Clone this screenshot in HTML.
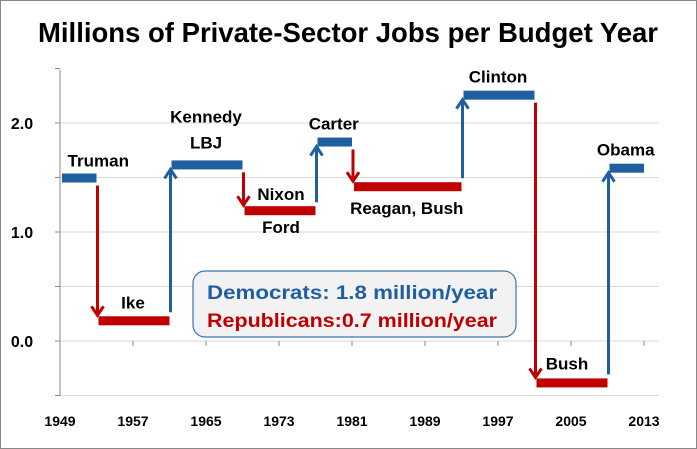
<!DOCTYPE html>
<html><head><meta charset="utf-8"><style>
body{margin:0;background:#fff}
svg{display:block;font-family:"Liberation Sans",sans-serif}
</style></head><body>
<svg id="chart" width="697" height="449">
<rect x="0.5" y="0.5" width="696" height="448" fill="#fff" stroke="#888"/>
<text x="348" y="42" text-anchor="middle" font-size="28" font-weight="bold" textLength="620" lengthAdjust="spacingAndGlyphs">Millions of Private-Sector Jobs per Budget Year</text>
<g id="grid"></g><g id="axes"></g><g id="marks"></g><g id="labels"></g>
<g>
<rect x="193" y="271" width="323" height="66" rx="12" fill="#f2f2f2" stroke="#3a75b0" stroke-width="1.2"/>
<text x="207" y="299" font-size="19" font-weight="bold" fill="#1f5fa0" textLength="290" lengthAdjust="spacingAndGlyphs">Democrats:  1.8 million/year</text>
<text x="207" y="327" font-size="19" font-weight="bold" fill="#c00000" textLength="290" lengthAdjust="spacingAndGlyphs">Republicans:0.7 million/year</text>
</g>
</svg>
<script>
const presidents = ["Truman","Ike","Kennedy\nLBJ","Nixon","Carter","Reagan, Bush","Clinton","Bush","Obama"];
const startYears = [1949,1953,1961,1969,1977,1981,1993,2001,2009];
const endYears = [1953,1961,1969,1977,1981,1993,2001,2009,2013];
const jobs = [1.5,0.19,1.62,1.2,1.83,1.42,2.26,-0.38,1.59];
const parties = ["D","R","D","R","D","R","D","R","D"];
const yTicks = [-0.5,0,0.5,1.0,1.5,2.0,2.5];
const yTickLabels = ["","0.0","","1.0","","2.0",""];
const xTickYears = [1949,1957,1965,1973,1981,1989,1997,2005,2013];

const NS="http://www.w3.org/2000/svg";
const X=yr=>60+(yr-1949)*9.125;
const Y=v=>341-v*109;
const BLUE="#1f5fa0", RED="#c00000";
function mk(tag,attrs,parent){const e=document.createElementNS(NS,tag);for(const k in attrs)e.setAttribute(k,attrs[k]);document.getElementById(parent).appendChild(e);return e;}

yTicks.forEach((t,i)=>{
  if(t!==2.5){const g=mk("line",{x1:60,x2:659,y1:Y(t),y2:Y(t),stroke:"#d9d9d9"},"grid");
  
  }
  const tk=mk("line",{x1:55,x2:60,y1:Y(t),y2:Y(t),stroke:"#888"},"axes");
  
  
  if(yTickLabels[i]){const l=mk("text",{x:22,y:Y(t)+6,"text-anchor":"middle","font-size":16,"font-weight":"bold"},"axes");l.textContent=yTickLabels[i];
  
  }
});
const ax=mk("line",{x1:60,x2:60,y1:Y(2.5)+1,y2:Y(-0.5),stroke:"#888"},"axes");


xTickYears.forEach(yr=>{
  const tk=mk("line",{x1:X(yr),x2:X(yr),y1:Y(0),y2:Y(0)+5,stroke:"#888"},"axes");
  
  
  const l=mk("text",{x:X(yr),y:426,"text-anchor":"middle","font-size":14,"font-weight":"bold"},"axes");l.textContent=yr;
  
  
});
presidents.forEach((p,i)=>{
  const col=parties[i]==="D"?BLUE:RED;
  const b=mk("rect",{x:X(startYears[i])+2,y:Y(jobs[i])-4,width:X(endYears[i])-X(startYears[i])-2,height:9,fill:col},"marks");
  
  
  if(i>0){
    const xa=X(startYears[i])+1, y0=Y(jobs[i-1]), y1=Y(jobs[i]);
    const c=parties[i]==="D"?BLUE:RED, dir=y1>y0?1:-1;
    const s0=y0+dir*8, s1=y1-dir*5;
    const a=mk("path",{d:`M${xa},${s0}L${xa},${s1}M${xa-6},${s1-dir*9}L${xa},${s1}L${xa+6},${s1-dir*9}`,stroke:c,"stroke-width":3,fill:"none"},"marks");
    
    
  }
  const cx=(X(startYears[i])+X(endYears[i]))/2;
  const lines=p.split("\n");
  let ly=Y(jobs[i])-12;
  if(i===0)ly=Y(jobs[i])-11;
  if(i===2)ly=Y(jobs[i])-20-22;
  if(i===3)ly=Y(jobs[i])-10;
  if(i===5)ly=Y(jobs[i])+28;
  if(i===7)ly=Y(jobs[i])-13;
  let lx=cx;
  if(i===0)lx=cx+20;
  if(i===3)lx=cx+2;
  if(i===7)lx=cx-4;
  lines.forEach((t,j)=>{
    const tx=mk("text",{x:lx,y:ly+j*26,"text-anchor":"middle","font-size":17,"font-weight":"bold"},"labels");tx.textContent=t;
    
    
  });
  if(i===3){const f=mk("text",{x:lx,y:Y(jobs[i])+23,"text-anchor":"middle","font-size":17,"font-weight":"bold"},"labels");f.textContent="Ford";
    
    }
});
</script>
</body></html>
